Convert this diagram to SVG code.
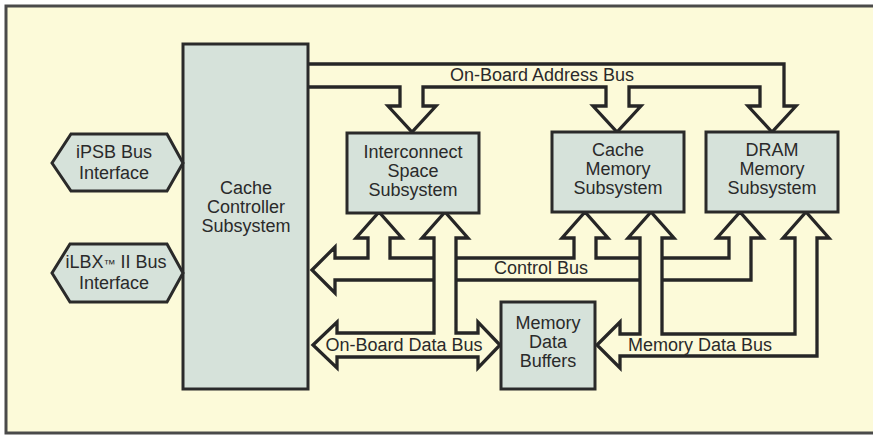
<svg xmlns="http://www.w3.org/2000/svg" width="873" height="436" viewBox="0 0 873 436">
<style>
.box{fill:#d6e2da;stroke:#2a2a2a;stroke-width:3}
.bus{fill:#fcfad9;stroke:#262626;stroke-width:3.3;stroke-linejoin:miter}
.t{font-family:"Liberation Sans",Arial,sans-serif;font-size:18px;fill:#2a2a2a;text-anchor:middle}
.tm{font-size:12px}
</style>
<rect x="0" y="0" width="873" height="436" fill="#ffffff"/>
<rect x="6" y="6" width="870" height="427" fill="#fcfad9"/>
<path d="M873,6 H6 V433 H873" fill="none" stroke="#4a4a4a" stroke-width="3"/>

<g id="connectors">
  <path class="bus" d="M308,64 H784 V106 H796 L772,132 L748,106 H760 V87 H629 V106 H641 L617,132 L593,106 H606 V87 H423 V106 H436 L412,132 L388,106 H400 V87 H308"/>
  <path class="bus" d="M312,270 L335,247 V258 H368 V238 H356 L379,212 L402,238 H390 V258 H574 V238 H562 L585,212 L608,238 H596 V258 H729 V238 H717 L740,212 L763,238 H751 V280 H335 V293 Z"/>
  <path class="bus" d="M313,345 L337,322 V333 H434 V238 H422 L445,212 L468,238 H456 V333 H478 V322 L500,345 L478,368 V357 H337 V368 Z"/>
  <path class="bus" d="M597,345 L620,322 V334 H640 V238 H628 L651,212 L674,238 H662 V334 H795 V238 H783 L806,212 L829,238 H817 V356 H620 V368 Z"/>
  <text class="t" x="542" y="81">On-Board Address Bus</text>
  <text class="t" x="541" y="274">Control Bus</text>
  <text class="t" x="404" y="351">On-Board Data Bus</text>
  <text class="t" x="700" y="351">Memory Data Bus</text>
</g>

<g id="cache-controller">
  <rect class="box" x="183" y="44" width="125" height="345"/>
  <text class="t" x="246" y="194">Cache</text>
  <text class="t" x="246" y="213">Controller</text>
  <text class="t" x="246" y="232">Subsystem</text>
</g>

<g id="ipsb">
  <polygon class="box" points="52,163 71,134 167,134 183,163 167,191 71,191"/>
  <text class="t" x="114" y="158">iPSB Bus</text>
  <text class="t" x="114" y="179">Interface</text>
</g>

<g id="ilbx">
  <polygon class="box" points="52,273 70,244 167,244 183,273 167,302 70,302"/>
  <text class="t" x="116" y="268">iLBX<tspan class="tm">™</tspan> II Bus</text>
  <text class="t" x="114" y="289">Interface</text>
</g>

<g id="interconnect">
  <rect class="box" x="347" y="133" width="132" height="80"/>
  <text class="t" x="413" y="158">Interconnect</text>
  <text class="t" x="413" y="177">Space</text>
  <text class="t" x="413" y="196">Subsystem</text>
</g>

<g id="cache-memory">
  <rect class="box" x="552" y="132" width="132" height="80"/>
  <text class="t" x="618" y="156">Cache</text>
  <text class="t" x="618" y="175">Memory</text>
  <text class="t" x="618" y="194">Subsystem</text>
</g>

<g id="dram-memory">
  <rect class="box" x="706" y="132" width="132" height="80"/>
  <text class="t" x="772" y="156">DRAM</text>
  <text class="t" x="772" y="175">Memory</text>
  <text class="t" x="772" y="194">Subsystem</text>
</g>

<g id="memory-data-buffers">
  <rect class="box" x="501" y="302" width="94" height="87"/>
  <text class="t" x="548" y="329">Memory</text>
  <text class="t" x="548" y="348">Data</text>
  <text class="t" x="548" y="367">Buffers</text>
</g>
</svg>
